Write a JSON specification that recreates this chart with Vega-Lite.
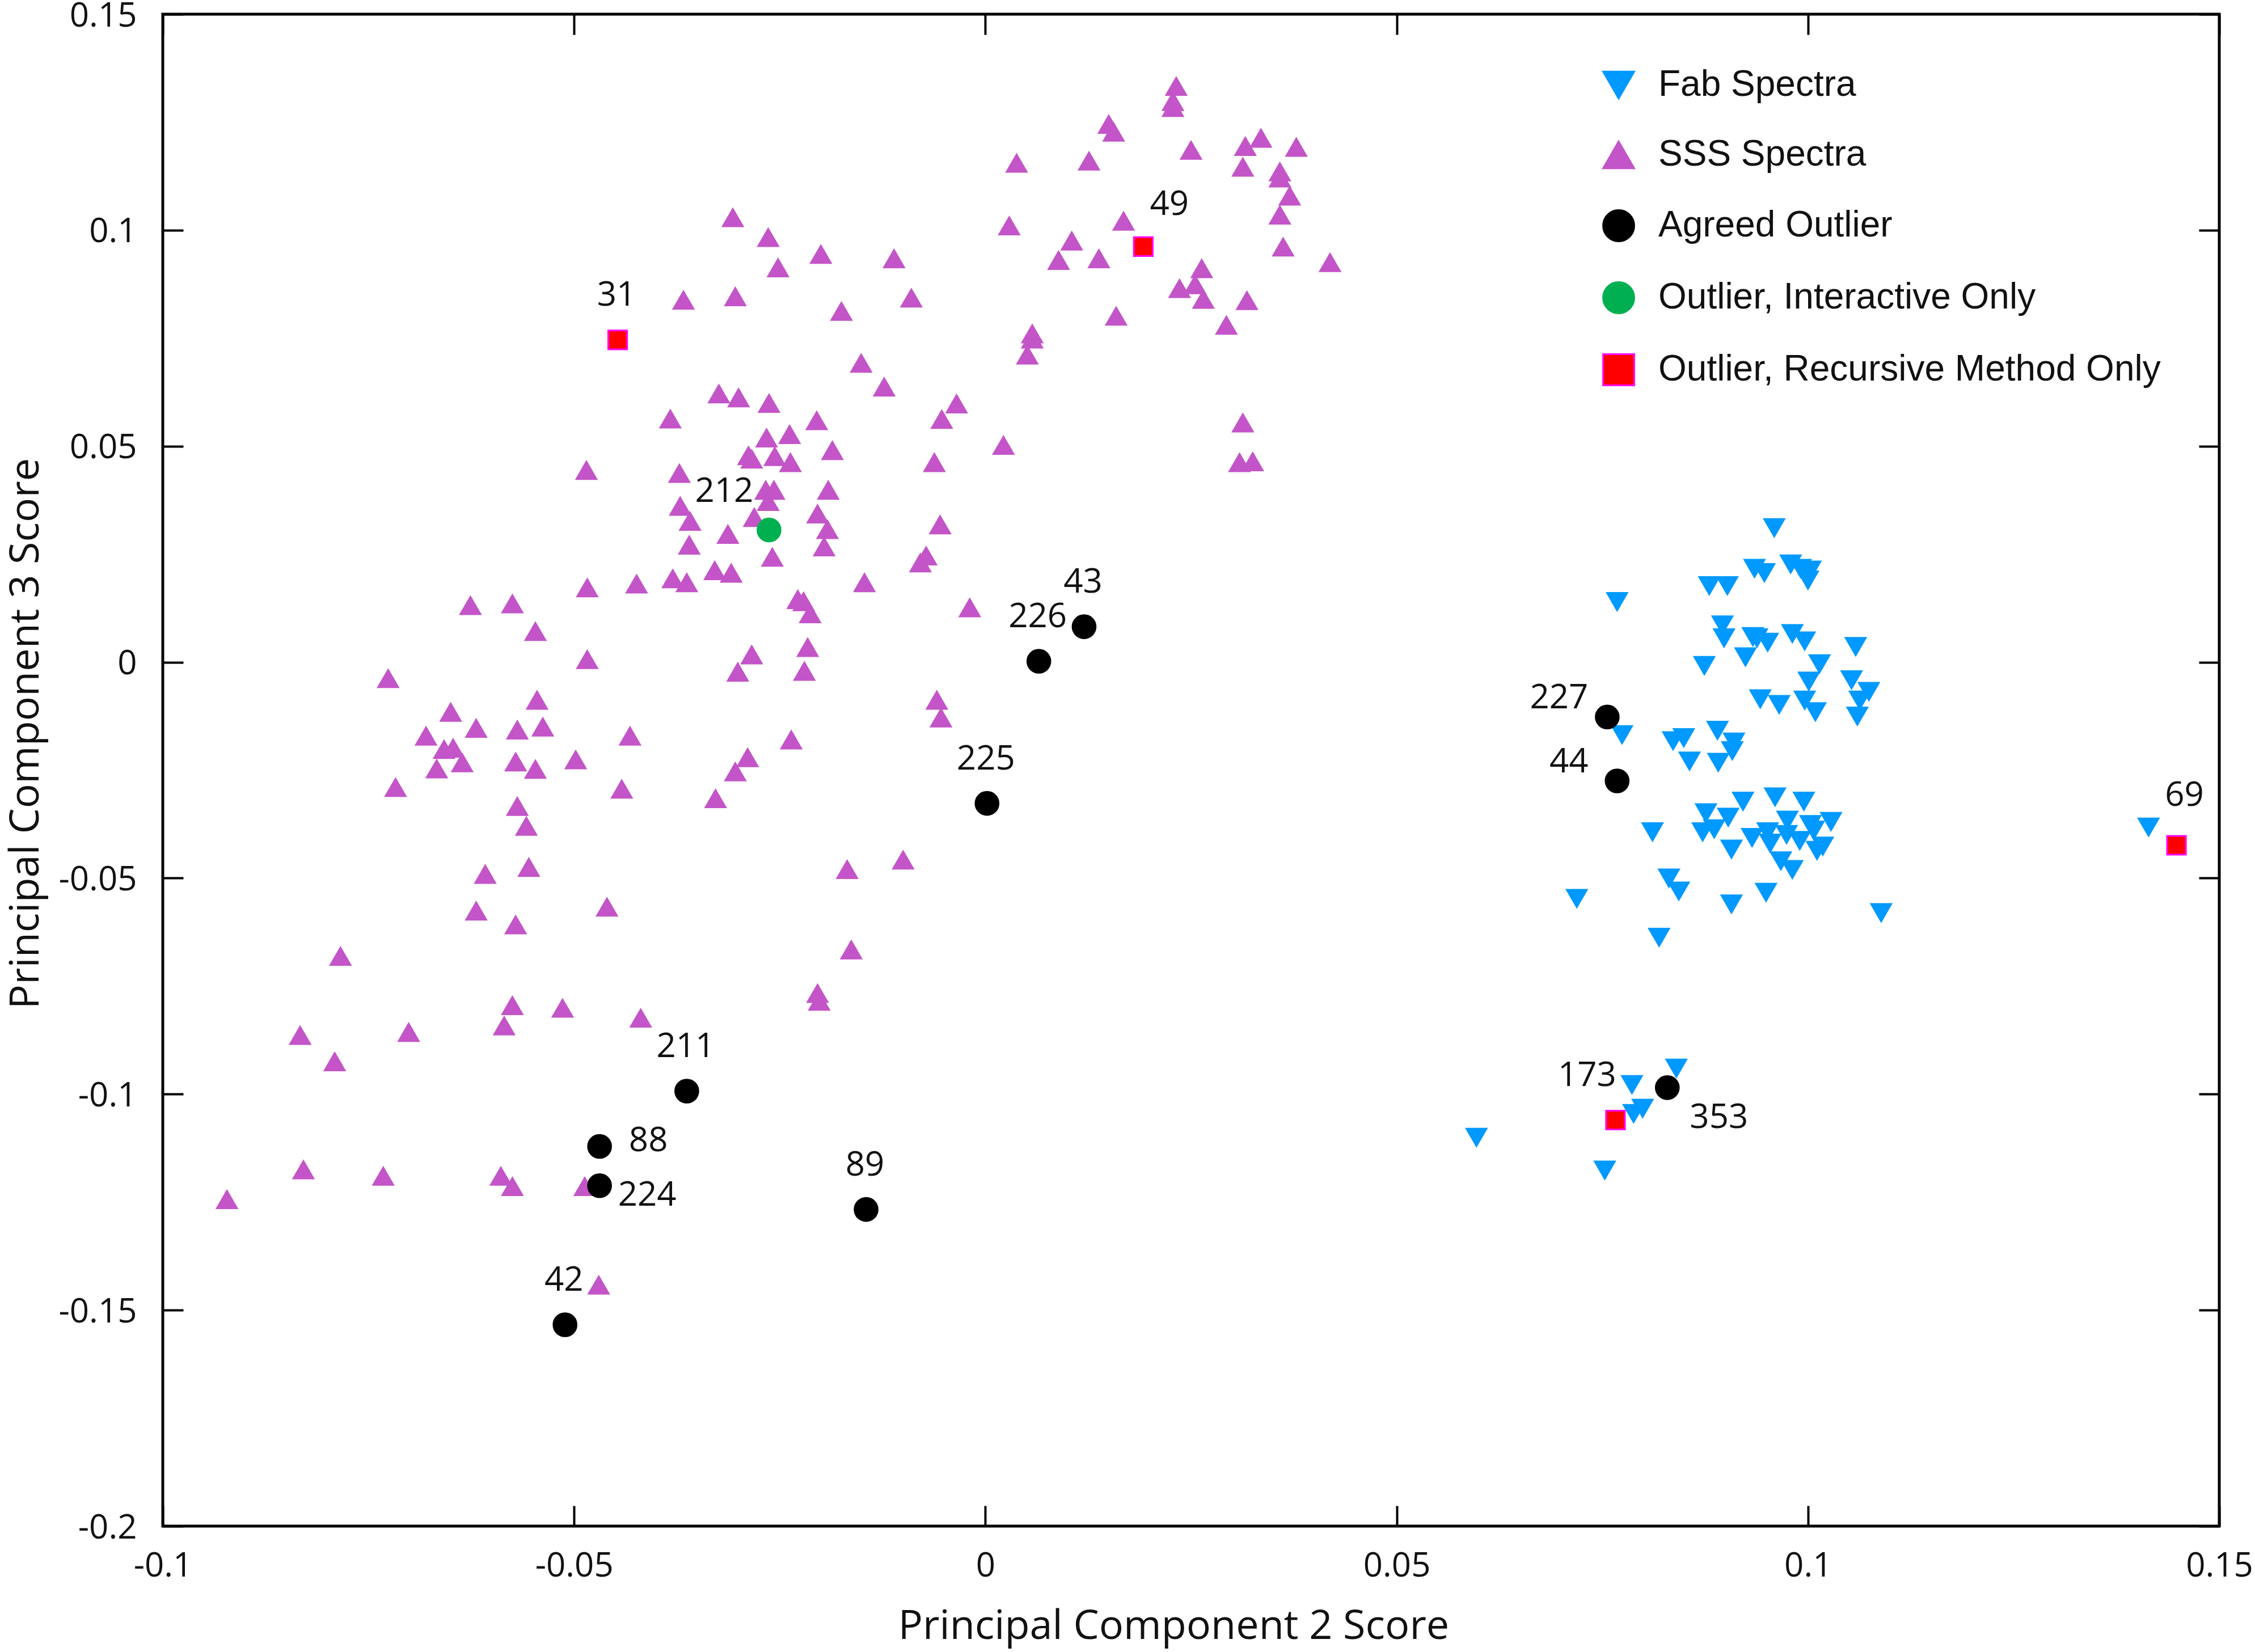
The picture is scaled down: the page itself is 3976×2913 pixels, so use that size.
{
  "$schema": "https://vega.github.io/schema/vega-lite/v6.json",
  "width": 3626,
  "height": 2666,
  "autosize": {"type": "none"},
  "padding": {"left": 287, "top": 25, "right": 63, "bottom": 222},
  "background": "white",
  "config": {
    "view": {"stroke": "black", "strokeWidth": 5},
    "font": "Open Sans",
    "axis": {"grid": false, "domain": false},
    "legend": {"title": null}
  },
  "datasets": {
    "pts": [
      {"pc2": 0.0959, "pc3": 0.0311, "series": "Fab Spectra"},
      {"pc2": 0.0935, "pc3": 0.0217, "series": "Fab Spectra"},
      {"pc2": 0.0947, "pc3": 0.0207, "series": "Fab Spectra"},
      {"pc2": 0.0979, "pc3": 0.0227, "series": "Fab Spectra"},
      {"pc2": 0.0991, "pc3": 0.0217, "series": "Fab Spectra"},
      {"pc2": 0.1003, "pc3": 0.0213, "series": "Fab Spectra"},
      {"pc2": 0.1000, "pc3": 0.0190, "series": "Fab Spectra"},
      {"pc2": 0.0880, "pc3": 0.0177, "series": "Fab Spectra"},
      {"pc2": 0.0902, "pc3": 0.0177, "series": "Fab Spectra"},
      {"pc2": 0.0768, "pc3": 0.0140, "series": "Fab Spectra"},
      {"pc2": 0.0896, "pc3": 0.0086, "series": "Fab Spectra"},
      {"pc2": 0.0898, "pc3": 0.0056, "series": "Fab Spectra"},
      {"pc2": 0.0938, "pc3": 0.0056, "series": "Fab Spectra"},
      {"pc2": 0.0951, "pc3": 0.0046, "series": "Fab Spectra"},
      {"pc2": 0.0933, "pc3": 0.0059, "series": "Fab Spectra"},
      {"pc2": 0.0981, "pc3": 0.0066, "series": "Fab Spectra"},
      {"pc2": 0.0996, "pc3": 0.0049, "series": "Fab Spectra"},
      {"pc2": 0.1058, "pc3": 0.0036, "series": "Fab Spectra"},
      {"pc2": 0.0924, "pc3": 0.0012, "series": "Fab Spectra"},
      {"pc2": 0.0874, "pc3": -0.0008, "series": "Fab Spectra"},
      {"pc2": 0.1014, "pc3": -0.0004, "series": "Fab Spectra"},
      {"pc2": 0.1001, "pc3": -0.0044, "series": "Fab Spectra"},
      {"pc2": 0.1053, "pc3": -0.0041, "series": "Fab Spectra"},
      {"pc2": 0.1074, "pc3": -0.0068, "series": "Fab Spectra"},
      {"pc2": 0.1063, "pc3": -0.0088, "series": "Fab Spectra"},
      {"pc2": 0.0942, "pc3": -0.0085, "series": "Fab Spectra"},
      {"pc2": 0.0965, "pc3": -0.0098, "series": "Fab Spectra"},
      {"pc2": 0.0996, "pc3": -0.0088, "series": "Fab Spectra"},
      {"pc2": 0.1009, "pc3": -0.0115, "series": "Fab Spectra"},
      {"pc2": 0.1060, "pc3": -0.0125, "series": "Fab Spectra"},
      {"pc2": 0.0774, "pc3": -0.0168, "series": "Fab Spectra"},
      {"pc2": 0.0836, "pc3": -0.0182, "series": "Fab Spectra"},
      {"pc2": 0.0849, "pc3": -0.0175, "series": "Fab Spectra"},
      {"pc2": 0.0890, "pc3": -0.0158, "series": "Fab Spectra"},
      {"pc2": 0.0910, "pc3": -0.0185, "series": "Fab Spectra"},
      {"pc2": 0.0908, "pc3": -0.0205, "series": "Fab Spectra"},
      {"pc2": 0.0856, "pc3": -0.0229, "series": "Fab Spectra"},
      {"pc2": 0.0891, "pc3": -0.0232, "series": "Fab Spectra"},
      {"pc2": 0.0921, "pc3": -0.0322, "series": "Fab Spectra"},
      {"pc2": 0.0960, "pc3": -0.0312, "series": "Fab Spectra"},
      {"pc2": 0.0995, "pc3": -0.0322, "series": "Fab Spectra"},
      {"pc2": 0.0876, "pc3": -0.0349, "series": "Fab Spectra"},
      {"pc2": 0.0903, "pc3": -0.0359, "series": "Fab Spectra"},
      {"pc2": 0.0872, "pc3": -0.0393, "series": "Fab Spectra"},
      {"pc2": 0.0886, "pc3": -0.0386, "series": "Fab Spectra"},
      {"pc2": 0.0975, "pc3": -0.0366, "series": "Fab Spectra"},
      {"pc2": 0.1003, "pc3": -0.0376, "series": "Fab Spectra"},
      {"pc2": 0.1028, "pc3": -0.0369, "series": "Fab Spectra"},
      {"pc2": 0.1007, "pc3": -0.0389, "series": "Fab Spectra"},
      {"pc2": 0.0951, "pc3": -0.0393, "series": "Fab Spectra"},
      {"pc2": 0.0974, "pc3": -0.0399, "series": "Fab Spectra"},
      {"pc2": 0.0932, "pc3": -0.0406, "series": "Fab Spectra"},
      {"pc2": 0.0990, "pc3": -0.0413, "series": "Fab Spectra"},
      {"pc2": 0.0954, "pc3": -0.0419, "series": "Fab Spectra"},
      {"pc2": 0.1018, "pc3": -0.0426, "series": "Fab Spectra"},
      {"pc2": 0.1011, "pc3": -0.0436, "series": "Fab Spectra"},
      {"pc2": 0.0811, "pc3": -0.0393, "series": "Fab Spectra"},
      {"pc2": 0.0907, "pc3": -0.0433, "series": "Fab Spectra"},
      {"pc2": 0.0967, "pc3": -0.0460, "series": "Fab Spectra"},
      {"pc2": 0.0981, "pc3": -0.0480, "series": "Fab Spectra"},
      {"pc2": 0.0831, "pc3": -0.0500, "series": "Fab Spectra"},
      {"pc2": 0.0843, "pc3": -0.0530, "series": "Fab Spectra"},
      {"pc2": 0.0719, "pc3": -0.0547, "series": "Fab Spectra"},
      {"pc2": 0.0907, "pc3": -0.0560, "series": "Fab Spectra"},
      {"pc2": 0.0949, "pc3": -0.0533, "series": "Fab Spectra"},
      {"pc2": 0.1089, "pc3": -0.0580, "series": "Fab Spectra"},
      {"pc2": 0.0819, "pc3": -0.0637, "series": "Fab Spectra"},
      {"pc2": 0.1414, "pc3": -0.0382, "series": "Fab Spectra"},
      {"pc2": 0.0786, "pc3": -0.0978, "series": "Fab Spectra"},
      {"pc2": 0.0840, "pc3": -0.0940, "series": "Fab Spectra"},
      {"pc2": 0.0788, "pc3": -0.1045, "series": "Fab Spectra"},
      {"pc2": 0.0799, "pc3": -0.1033, "series": "Fab Spectra"},
      {"pc2": 0.0597, "pc3": -0.1100, "series": "Fab Spectra"},
      {"pc2": 0.0753, "pc3": -0.1176, "series": "Fab Spectra"},

      {"pc2": -0.0307, "pc3": 0.1029, "series": "SSS Spectra"},
      {"pc2": -0.0264, "pc3": 0.0983, "series": "SSS Spectra"},
      {"pc2": -0.0252, "pc3": 0.0913, "series": "SSS Spectra"},
      {"pc2": -0.0367, "pc3": 0.0838, "series": "SSS Spectra"},
      {"pc2": -0.0304, "pc3": 0.0846, "series": "SSS Spectra"},
      {"pc2": -0.0324, "pc3": 0.0621, "series": "SSS Spectra"},
      {"pc2": -0.0300, "pc3": 0.0612, "series": "SSS Spectra"},
      {"pc2": -0.0263, "pc3": 0.0599, "series": "SSS Spectra"},
      {"pc2": -0.0383, "pc3": 0.0563, "series": "SSS Spectra"},
      {"pc2": -0.0266, "pc3": 0.0519, "series": "SSS Spectra"},
      {"pc2": -0.0238, "pc3": 0.0527, "series": "SSS Spectra"},
      {"pc2": -0.0288, "pc3": 0.0478, "series": "SSS Spectra"},
      {"pc2": -0.0284, "pc3": 0.0470, "series": "SSS Spectra"},
      {"pc2": -0.0256, "pc3": 0.0476, "series": "SSS Spectra"},
      {"pc2": -0.0237, "pc3": 0.0462, "series": "SSS Spectra"},
      {"pc2": -0.0485, "pc3": 0.0444, "series": "SSS Spectra"},
      {"pc2": -0.0372, "pc3": 0.0437, "series": "SSS Spectra"},
      {"pc2": -0.0267, "pc3": 0.0398, "series": "SSS Spectra"},
      {"pc2": -0.0257, "pc3": 0.0398, "series": "SSS Spectra"},
      {"pc2": -0.0264, "pc3": 0.0372, "series": "SSS Spectra"},
      {"pc2": -0.0371, "pc3": 0.0361, "series": "SSS Spectra"},
      {"pc2": -0.0359, "pc3": 0.0326, "series": "SSS Spectra"},
      {"pc2": -0.0281, "pc3": 0.0335, "series": "SSS Spectra"},
      {"pc2": -0.0313, "pc3": 0.0296, "series": "SSS Spectra"},
      {"pc2": -0.0360, "pc3": 0.0271, "series": "SSS Spectra"},
      {"pc2": -0.0259, "pc3": 0.0243, "series": "SSS Spectra"},
      {"pc2": -0.0329, "pc3": 0.0212, "series": "SSS Spectra"},
      {"pc2": -0.0309, "pc3": 0.0206, "series": "SSS Spectra"},
      {"pc2": -0.0380, "pc3": 0.0193, "series": "SSS Spectra"},
      {"pc2": -0.0363, "pc3": 0.0184, "series": "SSS Spectra"},
      {"pc2": -0.0424, "pc3": 0.0181, "series": "SSS Spectra"},
      {"pc2": -0.0484, "pc3": 0.0172, "series": "SSS Spectra"},
      {"pc2": -0.0626, "pc3": 0.0131, "series": "SSS Spectra"},
      {"pc2": -0.0575, "pc3": 0.0135, "series": "SSS Spectra"},
      {"pc2": -0.0547, "pc3": 0.0071, "series": "SSS Spectra"},
      {"pc2": -0.0484, "pc3": 0.0006, "series": "SSS Spectra"},
      {"pc2": -0.0284, "pc3": 0.0017, "series": "SSS Spectra"},
      {"pc2": -0.0301, "pc3": -0.0023, "series": "SSS Spectra"},
      {"pc2": -0.0726, "pc3": -0.0038, "series": "SSS Spectra"},
      {"pc2": 0.0232, "pc3": 0.1333, "series": "SSS Spectra"},
      {"pc2": 0.0228, "pc3": 0.1298, "series": "SSS Spectra"},
      {"pc2": 0.0228, "pc3": 0.1284, "series": "SSS Spectra"},
      {"pc2": 0.0150, "pc3": 0.1245, "series": "SSS Spectra"},
      {"pc2": 0.0156, "pc3": 0.1227, "series": "SSS Spectra"},
      {"pc2": 0.0038, "pc3": 0.1155, "series": "SSS Spectra"},
      {"pc2": 0.0126, "pc3": 0.1160, "series": "SSS Spectra"},
      {"pc2": 0.0250, "pc3": 0.1185, "series": "SSS Spectra"},
      {"pc2": 0.0316, "pc3": 0.1194, "series": "SSS Spectra"},
      {"pc2": 0.0335, "pc3": 0.1213, "series": "SSS Spectra"},
      {"pc2": 0.0378, "pc3": 0.1192, "series": "SSS Spectra"},
      {"pc2": 0.0313, "pc3": 0.1146, "series": "SSS Spectra"},
      {"pc2": 0.0358, "pc3": 0.1135, "series": "SSS Spectra"},
      {"pc2": 0.0358, "pc3": 0.1121, "series": "SSS Spectra"},
      {"pc2": 0.0370, "pc3": 0.1079, "series": "SSS Spectra"},
      {"pc2": 0.0358, "pc3": 0.1035, "series": "SSS Spectra"},
      {"pc2": 0.0362, "pc3": 0.0961, "series": "SSS Spectra"},
      {"pc2": 0.0419, "pc3": 0.0925, "series": "SSS Spectra"},
      {"pc2": 0.0029, "pc3": 0.1010, "series": "SSS Spectra"},
      {"pc2": 0.0168, "pc3": 0.1021, "series": "SSS Spectra"},
      {"pc2": 0.0105, "pc3": 0.0975, "series": "SSS Spectra"},
      {"pc2": 0.0089, "pc3": 0.0930, "series": "SSS Spectra"},
      {"pc2": 0.0138, "pc3": 0.0934, "series": "SSS Spectra"},
      {"pc2": 0.0263, "pc3": 0.0911, "series": "SSS Spectra"},
      {"pc2": 0.0236, "pc3": 0.0865, "series": "SSS Spectra"},
      {"pc2": 0.0255, "pc3": 0.0874, "series": "SSS Spectra"},
      {"pc2": 0.0265, "pc3": 0.0840, "series": "SSS Spectra"},
      {"pc2": 0.0318, "pc3": 0.0837, "series": "SSS Spectra"},
      {"pc2": 0.0293, "pc3": 0.0780, "series": "SSS Spectra"},
      {"pc2": 0.0159, "pc3": 0.0801, "series": "SSS Spectra"},
      {"pc2": 0.0057, "pc3": 0.0760, "series": "SSS Spectra"},
      {"pc2": 0.0057, "pc3": 0.0748, "series": "SSS Spectra"},
      {"pc2": 0.0051, "pc3": 0.0711, "series": "SSS Spectra"},
      {"pc2": -0.0200, "pc3": 0.0944, "series": "SSS Spectra"},
      {"pc2": -0.0111, "pc3": 0.0934, "series": "SSS Spectra"},
      {"pc2": -0.0175, "pc3": 0.0812, "series": "SSS Spectra"},
      {"pc2": -0.0090, "pc3": 0.0843, "series": "SSS Spectra"},
      {"pc2": -0.0151, "pc3": 0.0692, "series": "SSS Spectra"},
      {"pc2": -0.0123, "pc3": 0.0637, "series": "SSS Spectra"},
      {"pc2": -0.0035, "pc3": 0.0598, "series": "SSS Spectra"},
      {"pc2": -0.0053, "pc3": 0.0562, "series": "SSS Spectra"},
      {"pc2": -0.0205, "pc3": 0.0559, "series": "SSS Spectra"},
      {"pc2": -0.0186, "pc3": 0.0490, "series": "SSS Spectra"},
      {"pc2": -0.0062, "pc3": 0.0462, "series": "SSS Spectra"},
      {"pc2": 0.0022, "pc3": 0.0502, "series": "SSS Spectra"},
      {"pc2": 0.0313, "pc3": 0.0554, "series": "SSS Spectra"},
      {"pc2": 0.0309, "pc3": 0.0462, "series": "SSS Spectra"},
      {"pc2": 0.0325, "pc3": 0.0464, "series": "SSS Spectra"},
      {"pc2": -0.0191, "pc3": 0.0398, "series": "SSS Spectra"},
      {"pc2": -0.0204, "pc3": 0.0343, "series": "SSS Spectra"},
      {"pc2": -0.0192, "pc3": 0.0307, "series": "SSS Spectra"},
      {"pc2": -0.0196, "pc3": 0.0267, "series": "SSS Spectra"},
      {"pc2": -0.0055, "pc3": 0.0318, "series": "SSS Spectra"},
      {"pc2": -0.0072, "pc3": 0.0246, "series": "SSS Spectra"},
      {"pc2": -0.0079, "pc3": 0.0230, "series": "SSS Spectra"},
      {"pc2": -0.0147, "pc3": 0.0184, "series": "SSS Spectra"},
      {"pc2": -0.0228, "pc3": 0.0145, "series": "SSS Spectra"},
      {"pc2": -0.0221, "pc3": 0.0140, "series": "SSS Spectra"},
      {"pc2": -0.0213, "pc3": 0.0112, "series": "SSS Spectra"},
      {"pc2": -0.0019, "pc3": 0.0126, "series": "SSS Spectra"},
      {"pc2": -0.0216, "pc3": 0.0034, "series": "SSS Spectra"},
      {"pc2": -0.0220, "pc3": -0.0021, "series": "SSS Spectra"},
      {"pc2": -0.0545, "pc3": -0.0088, "series": "SSS Spectra"},
      {"pc2": -0.0650, "pc3": -0.0116, "series": "SSS Spectra"},
      {"pc2": -0.0619, "pc3": -0.0153, "series": "SSS Spectra"},
      {"pc2": -0.0680, "pc3": -0.0171, "series": "SSS Spectra"},
      {"pc2": -0.0658, "pc3": -0.0202, "series": "SSS Spectra"},
      {"pc2": -0.0647, "pc3": -0.0199, "series": "SSS Spectra"},
      {"pc2": -0.0636, "pc3": -0.0233, "series": "SSS Spectra"},
      {"pc2": -0.0667, "pc3": -0.0247, "series": "SSS Spectra"},
      {"pc2": -0.0569, "pc3": -0.0157, "series": "SSS Spectra"},
      {"pc2": -0.0538, "pc3": -0.0150, "series": "SSS Spectra"},
      {"pc2": -0.0432, "pc3": -0.0171, "series": "SSS Spectra"},
      {"pc2": -0.0571, "pc3": -0.0231, "series": "SSS Spectra"},
      {"pc2": -0.0547, "pc3": -0.0248, "series": "SSS Spectra"},
      {"pc2": -0.0498, "pc3": -0.0226, "series": "SSS Spectra"},
      {"pc2": -0.0442, "pc3": -0.0294, "series": "SSS Spectra"},
      {"pc2": -0.0717, "pc3": -0.0290, "series": "SSS Spectra"},
      {"pc2": -0.0569, "pc3": -0.0334, "series": "SSS Spectra"},
      {"pc2": -0.0558, "pc3": -0.0380, "series": "SSS Spectra"},
      {"pc2": -0.0236, "pc3": -0.0180, "series": "SSS Spectra"},
      {"pc2": -0.0289, "pc3": -0.0221, "series": "SSS Spectra"},
      {"pc2": -0.0304, "pc3": -0.0254, "series": "SSS Spectra"},
      {"pc2": -0.0328, "pc3": -0.0316, "series": "SSS Spectra"},
      {"pc2": -0.0608, "pc3": -0.0491, "series": "SSS Spectra"},
      {"pc2": -0.0555, "pc3": -0.0475, "series": "SSS Spectra"},
      {"pc2": -0.0619, "pc3": -0.0576, "series": "SSS Spectra"},
      {"pc2": -0.0571, "pc3": -0.0608, "series": "SSS Spectra"},
      {"pc2": -0.0460, "pc3": -0.0567, "series": "SSS Spectra"},
      {"pc2": -0.0784, "pc3": -0.0681, "series": "SSS Spectra"},
      {"pc2": -0.0575, "pc3": -0.0795, "series": "SSS Spectra"},
      {"pc2": -0.0514, "pc3": -0.0801, "series": "SSS Spectra"},
      {"pc2": -0.0419, "pc3": -0.0824, "series": "SSS Spectra"},
      {"pc2": -0.0585, "pc3": -0.0842, "series": "SSS Spectra"},
      {"pc2": -0.0833, "pc3": -0.0864, "series": "SSS Spectra"},
      {"pc2": -0.0701, "pc3": -0.0857, "series": "SSS Spectra"},
      {"pc2": -0.0791, "pc3": -0.0925, "series": "SSS Spectra"},
      {"pc2": -0.0829, "pc3": -0.1175, "series": "SSS Spectra"},
      {"pc2": -0.0732, "pc3": -0.1190, "series": "SSS Spectra"},
      {"pc2": -0.0589, "pc3": -0.1190, "series": "SSS Spectra"},
      {"pc2": -0.0575, "pc3": -0.1214, "series": "SSS Spectra"},
      {"pc2": -0.0487, "pc3": -0.1214, "series": "SSS Spectra"},
      {"pc2": -0.0922, "pc3": -0.1244, "series": "SSS Spectra"},
      {"pc2": -0.0470, "pc3": -0.1442, "series": "SSS Spectra"},
      {"pc2": -0.0059, "pc3": -0.0088, "series": "SSS Spectra"},
      {"pc2": -0.0054, "pc3": -0.0129, "series": "SSS Spectra"},
      {"pc2": -0.0168, "pc3": -0.0480, "series": "SSS Spectra"},
      {"pc2": -0.0100, "pc3": -0.0458, "series": "SSS Spectra"},
      {"pc2": -0.0163, "pc3": -0.0666, "series": "SSS Spectra"},
      {"pc2": -0.0204, "pc3": -0.0767, "series": "SSS Spectra"},
      {"pc2": -0.0202, "pc3": -0.0785, "series": "SSS Spectra"},

      {"pc2": 0.0120, "pc3": 0.0082, "series": "Agreed Outlier", "id": "43"},
      {"pc2": 0.0065, "pc3": 0.0002, "series": "Agreed Outlier", "id": "226"},
      {"pc2": 0.0002, "pc3": -0.0327, "series": "Agreed Outlier", "id": "225"},
      {"pc2": 0.0756, "pc3": -0.0127, "series": "Agreed Outlier", "id": "227"},
      {"pc2": 0.0768, "pc3": -0.0275, "series": "Agreed Outlier", "id": "44"},
      {"pc2": 0.0829, "pc3": -0.0985, "series": "Agreed Outlier", "id": "353"},
      {"pc2": -0.0363, "pc3": -0.0993, "series": "Agreed Outlier", "id": "211"},
      {"pc2": -0.0469, "pc3": -0.1121, "series": "Agreed Outlier", "id": "88"},
      {"pc2": -0.0469, "pc3": -0.1212, "series": "Agreed Outlier", "id": "224"},
      {"pc2": -0.0145, "pc3": -0.1267, "series": "Agreed Outlier", "id": "89"},
      {"pc2": -0.0511, "pc3": -0.1534, "series": "Agreed Outlier", "id": "42"},
      {"pc2": -0.0263, "pc3": 0.0306, "series": "Outlier, Interactive Only", "id": "212"},
      {"pc2": -0.0447, "pc3": 0.0746, "series": "Outlier, Recursive Method Only", "id": "31"},
      {"pc2": 0.0192, "pc3": 0.0962, "series": "Outlier, Recursive Method Only", "id": "49"},
      {"pc2": 0.1448, "pc3": -0.0424, "series": "Outlier, Recursive Method Only", "id": "69"},
      {"pc2": 0.0766, "pc3": -0.1060, "series": "Outlier, Recursive Method Only", "id": "173"}
    ]
  },
  "data": {"name": "pts"},
  "resolve": {"axis": {"x": "independent", "y": "independent"}},
  "layer": [
    {
      "mark": {"type": "point", "filled": true, "opacity": 1, "strokeWidth": 3},
      "encoding": {
        "x": {
          "field": "pc2", "type": "quantitative",
          "scale": {"domain": [-0.1, 0.15], "nice": false, "zero": false},
          "axis": {
            "orient": "bottom",
            "values": [-0.1, -0.05, 0, 0.05, 0.1, 0.15],
            "tickSize": -36, "tickWidth": 4, "tickColor": "black",
            "labelFont": "Open Sans", "labelFontSize": 60, "labelColor": "#111", "labelPadding": 77,
            "labelExpr": "replace(format(datum.value, '~g'), '\u2212', '-')",
            "labelFlush": false,
            "title": "Principal Component 2 Score",
            "titleFont": "Open Sans", "titleFontSize": 72, "titleFontWeight": "normal", "titleColor": "#111",
            "titleX": 1782, "titleY": 198, "titleBaseline": "alphabetic"
          }
        },
        "y": {
          "field": "pc3", "type": "quantitative",
          "scale": {"domain": [-0.2, 0.15], "nice": false, "zero": false},
          "axis": {
            "orient": "left",
            "values": [-0.2, -0.15, -0.1, -0.05, 0, 0.05, 0.1, 0.15],
            "tickSize": -36, "tickWidth": 4, "tickColor": "black",
            "labelFont": "Open Sans", "labelFontSize": 60, "labelColor": "#111", "labelPadding": 82,
            "labelOffset": 3,
            "labelExpr": "replace(format(datum.value, '~g'), '\u2212', '-')",
            "labelFlush": false,
            "title": "Principal Component 3 Score",
            "titleFont": "Open Sans", "titleFontSize": 72, "titleFontWeight": "normal", "titleColor": "#111",
            "titleX": -220, "titleY": 1268, "titleBaseline": "alphabetic", "titleAngle": -90
          }
        },
        "color": {
          "field": "series", "type": "nominal",
          "scale": {
            "domain": ["Fab Spectra", "SSS Spectra", "Agreed Outlier", "Outlier, Interactive Only", "Outlier, Recursive Method Only"],
            "range": ["#0099FF", "#C355C8", "#000000", "#00B050", "#FF0000"]
          },
          "legend": {
            "orient": "none", "legendX": 2535, "legendY": 93, "title": null,
            "labelFont": "Liberation Sans", "labelFontSize": 64, "labelColor": "#111",
            "symbolSize": 3000, "rowPadding": 59, "labelOffset": 38, "padding": 0, "symbolStrokeWidth": 3,
            "labelLimit": 2000
          }
        },
        "shape": {
          "field": "series", "type": "nominal",
          "scale": {
            "domain": ["Fab Spectra", "SSS Spectra", "Agreed Outlier", "Outlier, Interactive Only", "Outlier, Recursive Method Only"],
            "range": ["triangle-down", "triangle-up", "circle", "circle", "square"]
          }
        },
        "stroke": {
          "field": "series", "type": "nominal",
          "scale": {
            "domain": ["Fab Spectra", "SSS Spectra", "Agreed Outlier", "Outlier, Interactive Only", "Outlier, Recursive Method Only"],
            "range": ["#0099FF", "#C355C8", "#000000", "#00B050", "#FF00FF"]
          }
        },
        "size": {
          "condition": [
            {"test": "datum.series === 'Agreed Outlier' || datum.series === 'Outlier, Interactive Only'", "value": 1650},
            {"test": "datum.series === 'Outlier, Recursive Method Only'", "value": 1100}
          ],
          "value": 1250
        }
      }
    },
    {
      "transform": [{"filter": {"field": "id", "oneOf": ["31", "43", "225", "89", "211", "42", "226"]}}],
      "mark": {"type": "text", "font": "Open Sans", "fontSize": 60, "color": "#111", "align": "center", "baseline": "middle", "dx": -2, "dy": -78},
      "encoding": {
        "x": {"field": "pc2", "type": "quantitative",
          "axis": {"orient": "top", "values": [-0.1, -0.05, 0, 0.05, 0.1, 0.15], "tickSize": -36, "tickWidth": 4, "tickColor": "black", "labels": false, "title": null}},
        "y": {"field": "pc3", "type": "quantitative",
          "axis": {"orient": "right", "values": [-0.2, -0.15, -0.1, -0.05, 0, 0.05, 0.1, 0.15], "tickSize": -36, "tickWidth": 4, "tickColor": "black", "labels": false, "title": null}},
        "text": {"field": "id"}
      }
    },
    {
      "transform": [{"filter": {"field": "id", "oneOf": ["49"]}}],
      "mark": {"type": "text", "font": "Open Sans", "fontSize": 60, "color": "#111", "align": "center", "baseline": "middle", "dx": 46, "dy": -74},
      "encoding": {"x": {"field": "pc2", "type": "quantitative", "axis": null}, "y": {"field": "pc3", "type": "quantitative", "axis": null}, "text": {"field": "id"}}
    },
    {
      "transform": [{"filter": {"field": "id", "oneOf": ["69"]}}],
      "mark": {"type": "text", "font": "Open Sans", "fontSize": 60, "color": "#111", "align": "center", "baseline": "middle", "dx": 14, "dy": -88},
      "encoding": {"x": {"field": "pc2", "type": "quantitative", "axis": null}, "y": {"field": "pc3", "type": "quantitative", "axis": null}, "text": {"field": "id"}}
    },
    {
      "transform": [{"filter": {"field": "id", "oneOf": ["212"]}}],
      "mark": {"type": "text", "font": "Open Sans", "fontSize": 60, "color": "#111", "align": "center", "baseline": "middle", "dx": -79, "dy": -67},
      "encoding": {"x": {"field": "pc2", "type": "quantitative", "axis": null}, "y": {"field": "pc3", "type": "quantitative", "axis": null}, "text": {"field": "id"}}
    },
    {
      "transform": [{"filter": {"field": "id", "oneOf": ["173"]}}],
      "mark": {"type": "text", "font": "Open Sans", "fontSize": 60, "color": "#111", "align": "center", "baseline": "middle", "dx": -50, "dy": -78},
      "encoding": {"x": {"field": "pc2", "type": "quantitative", "axis": null}, "y": {"field": "pc3", "type": "quantitative", "axis": null}, "text": {"field": "id"}}
    },
    {
      "transform": [{"filter": {"field": "id", "oneOf": ["227", "44"]}}],
      "mark": {"type": "text", "font": "Open Sans", "fontSize": 60, "color": "#111", "align": "center", "baseline": "middle", "dx": -85, "dy": -33},
      "encoding": {"x": {"field": "pc2", "type": "quantitative", "axis": null}, "y": {"field": "pc3", "type": "quantitative", "axis": null}, "text": {"field": "id"}}
    },
    {
      "transform": [{"filter": {"field": "id", "oneOf": ["88"]}}],
      "mark": {"type": "text", "font": "Open Sans", "fontSize": 60, "color": "#111", "align": "center", "baseline": "middle", "dx": 86, "dy": -9},
      "encoding": {"x": {"field": "pc2", "type": "quantitative", "axis": null}, "y": {"field": "pc3", "type": "quantitative", "axis": null}, "text": {"field": "id"}}
    },
    {
      "transform": [{"filter": {"field": "id", "oneOf": ["224"]}}],
      "mark": {"type": "text", "font": "Open Sans", "fontSize": 60, "color": "#111", "align": "center", "baseline": "middle", "dx": 84, "dy": 17},
      "encoding": {"x": {"field": "pc2", "type": "quantitative", "axis": null}, "y": {"field": "pc3", "type": "quantitative", "axis": null}, "text": {"field": "id"}}
    },
    {
      "transform": [{"filter": {"field": "id", "oneOf": ["353"]}}],
      "mark": {"type": "text", "font": "Open Sans", "fontSize": 60, "color": "#111", "align": "center", "baseline": "middle", "dx": 91, "dy": 53},
      "encoding": {"x": {"field": "pc2", "type": "quantitative", "axis": null}, "y": {"field": "pc3", "type": "quantitative", "axis": null}, "text": {"field": "id"}}
    }
  ]
}
